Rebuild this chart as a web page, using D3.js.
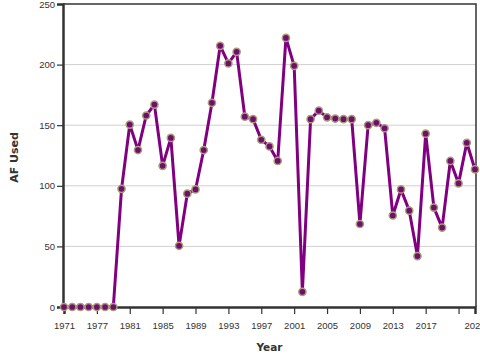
<!DOCTYPE html>
<html>
<head>
<meta charset="utf-8">
<script src="https://cdn.jsdelivr.net/npm/d3@7"></script>
<style>
  body { margin: 0; background: #fff; }
  svg { display: block; font-family: "DejaVu Sans", Verdana, sans-serif; }
</style>
</head>
<body>
<svg id="chart" width="480" height="360"></svg>
<script>
const years = ["1971","1973","1974","1976","1977","1978","1979","1980","1981","1982",
  "1983","1984","1985","1986","1987","1988","1989","1990","1991","1992",
  "1993","1994","1995","1996","1997","1998","1999","2000","2001","2002",
  "2003","2004","2005","2006","2007","2008","2009","2010","2011","2012",
  "2013","2014","2015","2016","2017","2018","2019","2020","2021","2022","2023"];
const afUsed = [0,0,0,0,0,0,0,97.5,150.5,129.5,
  158,167,116.5,139.5,50.5,93.5,97,129.5,168.5,215.5,
  201,210.5,157,155,138,132.5,120.5,222,199,12.5,
  155,162,156.5,155.5,155,155,68.5,150,152,147.5,
  75.5,97,79.5,42,143,82,65.5,120.5,102,135.5,113.5];
const yTicks = [0,50,100,150,200,250];
const xTickLabels = ["1971","1977","1981","1985","1989","1993","1997","2001","2005","2009","2013","2017","2021"];

const margin = {left: 63, top: 4, right: 4, bottom: 53};
const W = 480, H = 360;
const w = W - margin.left - margin.right;   // 413
const h = H - margin.top - margin.bottom;   // 303

const svg = d3.select("#chart");
const g = svg.append("g").attr("transform", `translate(${margin.left},${margin.top})`);

const x = d3.scalePoint().domain(years).range([1, w - 1]);
const y = d3.scaleLinear().domain([0, 250]).range([h, 0]);

// gridlines
g.append("g").selectAll("line").data(yTicks.filter(d => d > 0 && d < 250)).join("line")
  .attr("x1", 0).attr("x2", w)
  .attr("y1", d => y(d)).attr("y2", d => y(d))
  .attr("stroke", "#d0d0d0").attr("stroke-width", 1);

// frame (top & right)
g.append("path")
  .attr("d", `M0,${y(250)}H${w}V${h}`)
  .attr("fill", "none").attr("stroke", "#333").attr("stroke-width", 1.5);

// y axis
const yAxis = g.append("g")
  .call(d3.axisLeft(y).tickValues(yTicks).tickSize(6).tickPadding(2).tickFormat(d3.format("d")));
yAxis.select(".domain").attr("stroke", "#333").attr("stroke-width", 2.5);
yAxis.selectAll(".tick line").attr("stroke", "#333").attr("stroke-width", 1.2);
yAxis.selectAll("text").attr("font-size", 9.5).attr("fill", "#333");

// x axis
const tickIdx = xTickLabels.map((_, i) => i * 4);
const xAxis = g.append("g").attr("transform", `translate(0,${h})`)
  .call(d3.axisBottom(x).tickValues(tickIdx.map(i => years[i])).tickSize(7).tickPadding(8)
    .tickFormat((d, i) => xTickLabels[i]));
xAxis.select(".domain").attr("stroke", "#333").attr("stroke-width", 2.5);
xAxis.selectAll(".tick line").attr("stroke", "#333").attr("stroke-width", 1.2);
xAxis.selectAll("text").attr("font-size", 9.5).attr("fill", "#333");
xAxis.selectAll(".tick").filter((d, i) => i === xTickLabels.length - 1)
  .select("text").attr("dx", 16);

// line
const line = d3.line().x((d, i) => x(years[i])).y(d => y(d));
g.append("path").datum(afUsed)
  .attr("d", line)
  .attr("fill", "none")
  .attr("stroke", "#800080")
  .attr("stroke-width", 3)
  .attr("stroke-linejoin", "round");

// markers
g.append("g").selectAll("circle").data(afUsed).join("circle")
  .attr("cx", (d, i) => x(years[i]))
  .attr("cy", d => y(d))
  .attr("r", 3.6)
  .attr("fill", "#6e0f6e")
  .attr("stroke", "#aa9d78")
  .attr("stroke-width", 1.5);

// axis titles
svg.append("text")
  .attr("x", margin.left + w / 2).attr("y", 351)
  .attr("text-anchor", "middle")
  .attr("font-size", 10.5).attr("font-weight", "bold").attr("fill", "#333")
  .text("Year");
svg.append("text")
  .attr("transform", `translate(17.5,${margin.top + h / 2 + 2}) rotate(-90)`)
  .attr("text-anchor", "middle")
  .attr("font-size", 11).attr("font-weight", "bold").attr("fill", "#333")
  .text("AF Used");
</script>
</body>
</html>
